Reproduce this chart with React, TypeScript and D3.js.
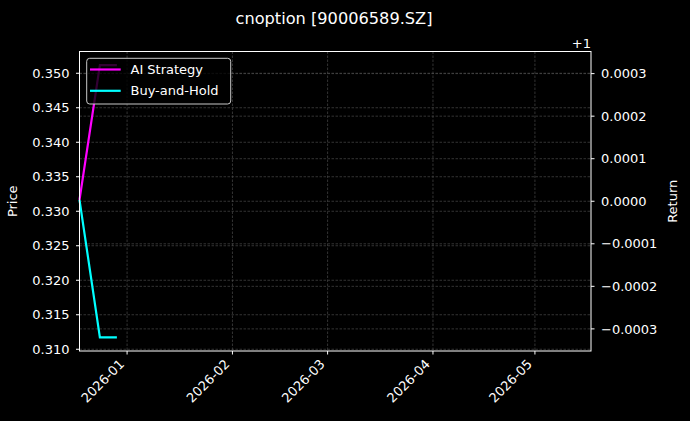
import { scaleLinear, scaleTime, line } from "d3";

const W = 690;
const H = 421;
const M = { left: 79.5, right: 591, top: 51.5, bottom: 351 };

const TITLE = "cnoption [90006589.SZ]";

// series dates and values (price axis)
const dates = [new Date(2025, 11, 18), new Date(2025, 11, 24), new Date(2025, 11, 29)];
const aiStrategy = [0.33165, 0.35118, 0.35118];
const buyHold = [0.33165, 0.31172, 0.31172];

const xDomain = [new Date(2025, 11, 18), new Date(2026, 4, 17, 12)];
const xTicks = [new Date(2026, 0, 1), new Date(2026, 1, 1), new Date(2026, 2, 1), new Date(2026, 3, 1), new Date(2026, 4, 1)];
const xTickLabels = ["2026-01", "2026-02", "2026-03", "2026-04", "2026-05"];

const priceTicks = [0.31, 0.315, 0.32, 0.325, 0.33, 0.335, 0.34, 0.345, 0.35];
const returnTicks = [-0.0003, -0.0002, -0.0001, 0, 0.0001, 0.0002, 0.0003];
const returnExtent = [-0.00032, 0.00032];

const series = [
    { name: "AI Strategy", color: "#ff00ff", values: aiStrategy },
    { name: "Buy-and-Hold", color: "#00ffff", values: buyHold },
];

const FONT = "DejaVu Sans, sans-serif";

export default function App() {
    const x = scaleTime().domain(xDomain).range([M.left, M.right]);

    // matplotlib-style 5% margins on the data extent
    const pLo = Math.min(...aiStrategy, ...buyHold);
    const pHi = Math.max(...aiStrategy, ...buyHold);
    const pPad = (pHi - pLo) * 0.05;
    const y = scaleLinear().domain([pLo - pPad, pHi + pPad]).range([M.bottom, M.top]);

    const rPad = (returnExtent[1] - returnExtent[0]) * 0.05;
    const yR = scaleLinear()
        .domain([returnExtent[0] - rPad, returnExtent[1] + rPad])
        .range([M.bottom, M.top]);

    const path = line<number>()
        .x((_, i) => x(dates[i]))
        .y((d) => y(d));

    const gridStyle = { stroke: "#555", strokeWidth: 0.6, strokeDasharray: "2.5,1.5" };

    return (
        <svg
            width={W}
            height={H}
            style={{ position: "absolute", left: 0, top: 0, background: "#000" }}
            fontFamily={FONT}
        >
            <rect x={0} y={0} width={W} height={H} fill="#000" />

            <text x={334} y={24} textAnchor="middle" fontSize={16.2} fill="#fff">
                {TITLE}
            </text>

            {/* grid */}
            {xTicks.map((t, i) => (
                <line key={`gx-${i}`} x1={x(t)} x2={x(t)} y1={M.top} y2={M.bottom} {...gridStyle} />
            ))}
            {priceTicks.map((t) => (
                <line key={`gp-${t}`} x1={M.left} x2={M.right} y1={y(t)} y2={y(t)} {...gridStyle} />
            ))}
            {returnTicks.map((t) => (
                <line key={`gr-${t}`} x1={M.left} x2={M.right} y1={yR(t)} y2={yR(t)} {...gridStyle} />
            ))}

            {/* lines */}
            {series.map((s) => (
                <path key={s.name} d={path(s.values) ?? ""} fill="none" stroke={s.color} strokeWidth={2.2} />
            ))}

            {/* frame */}
            <rect
                x={M.left}
                y={M.top}
                width={M.right - M.left}
                height={M.bottom - M.top}
                fill="none"
                stroke="#fff"
                strokeWidth={1}
            />

            {/* left axis */}
            {priceTicks.map((t) => (
                <g key={`pt-${t}`}>
                    <line x1={M.left - 3.5} x2={M.left} y1={y(t)} y2={y(t)} stroke="#fff" />
                    <text x={M.left - 10} y={y(t)} dy="0.36em" textAnchor="end" fontSize={13} fill="#fff">
                        {t.toFixed(3)}
                    </text>
                </g>
            ))}
            <text
                x={17}
                y={(M.top + M.bottom) / 2}
                textAnchor="middle"
                fontSize={13}
                fill="#fff"
                transform={`rotate(-90, 17, ${(M.top + M.bottom) / 2})`}
            >
                Price
            </text>

            {/* right axis */}
            {returnTicks.map((t) => (
                <g key={`rt-${t}`}>
                    <line x1={M.right} x2={M.right + 3.5} y1={yR(t)} y2={yR(t)} stroke="#fff" />
                    <text x={M.right + 10} y={yR(t)} dy="0.36em" textAnchor="start" fontSize={13} fill="#fff">
                        {(t < 0 ? "\u2212" : "") + Math.abs(t).toFixed(4)}
                    </text>
                </g>
            ))}
            <text x={M.right} y={48} textAnchor="end" fontSize={13} fill="#fff">
                +1
            </text>
            <text
                x={677}
                y={(M.top + M.bottom) / 2}
                textAnchor="middle"
                fontSize={13}
                fill="#fff"
                transform={`rotate(-90, 677, ${(M.top + M.bottom) / 2})`}
            >
                Return
            </text>

            {/* bottom axis */}
            {xTicks.map((t, i) => {
                const tx = x(t);
                const ax = tx - 2;
                const ay = 365;
                return (
                    <g key={`xt-${i}`}>
                        <line x1={tx} x2={tx} y1={M.bottom} y2={M.bottom + 3.5} stroke="#fff" />
                        <text
                            x={ax}
                            y={ay}
                            textAnchor="end"
                            fontSize={13}
                            fill="#fff"
                            transform={`rotate(-45, ${ax}, ${ay})`}
                        >
                            {xTickLabels[i]}
                        </text>
                    </g>
                );
            })}

            {/* legend */}
            <rect
                x={86.7}
                y={58.3}
                width={144}
                height={45.7}
                rx={3}
                fill="#000"
                fillOpacity={0.8}
                stroke="#c8c8c8"
                strokeWidth={1}
            />
            {series.map((s, i) => {
                const ly = 69.5 + i * 21.3;
                return (
                    <g key={`lg-${s.name}`}>
                        <line x1={90} x2={120.7} y1={ly} y2={ly} stroke={s.color} strokeWidth={2.2} />
                        <text x={130.5} y={ly} dy="0.36em" fontSize={13} fill="#fff">
                            {s.name}
                        </text>
                    </g>
                );
            })}
        </svg>
    );
}
